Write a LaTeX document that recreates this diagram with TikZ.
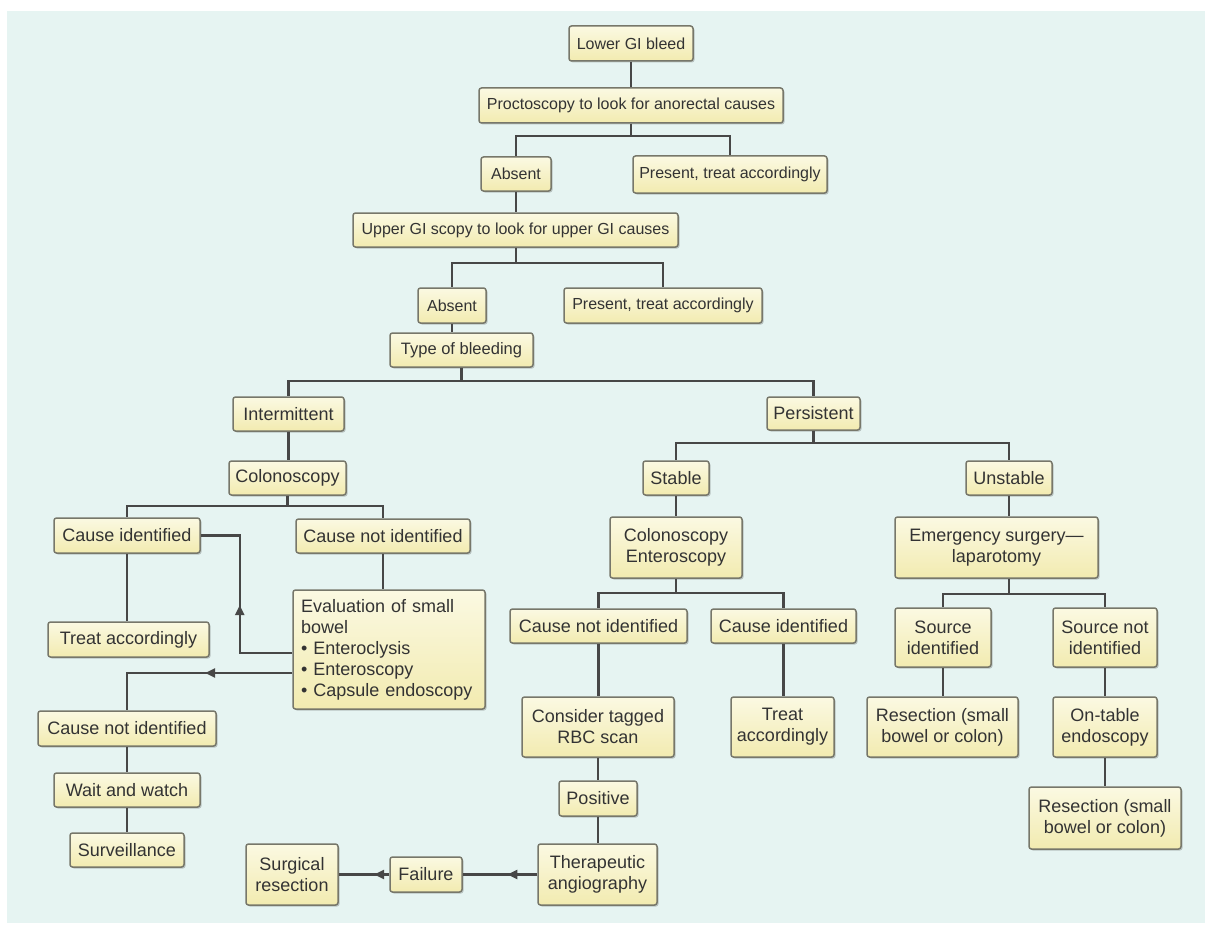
\documentclass[tikz,border=0pt]{standalone}
\usepackage{fontspec}
\setmainfont{Liberation Sans}
\usepackage{xcolor}
\usepackage{tikz}
\usetikzlibrary{arrows.meta,positioning,calc,shadows,decorations.markings}

\definecolor{bgcol}{HTML}{E6F4F2}
\definecolor{boxfill}{HTML}{F2EBB0}
\definecolor{boxlight}{HTML}{FBF9E2}
\definecolor{boxedge}{HTML}{77776A}
\definecolor{linecol}{HTML}{474747}

\newcommand{\topfont}{\fontsize{16}{19}\selectfont}
\newcommand{\lowfont}{\fontsize{18}{21}\selectfont}

\begin{document}
\begin{tikzpicture}[
    x=1pt, y=-1pt,
    box/.style={draw=boxedge, line width=1.5pt, rounded corners=2.5pt,
        top color=boxlight, bottom color=boxfill, align=center,
        inner sep=2pt, minimum height=35pt, text=black!80,
        drop shadow={shadow xshift=1.5pt, shadow yshift=-1.5pt, fill=black, opacity=0.2}},
    topbox/.style={box, font=\topfont},
    lowbox/.style={box, font=\lowfont},
    conn/.style={draw=linecol, line width=2.4pt},
    midarrow/.style={conn, postaction={decorate},
        decoration={markings, mark=at position #1 with {\arrow{Triangle[length=10pt,width=9pt]}}}}
]
    \useasboundingbox (0,0) rectangle (1205,931);
    % Page tint
    \fill[bgcol] (7,11) rectangle (1205,923);

    % Top of the tree
    \node[topbox, minimum width=124pt] (lgib) at (631,43.5) {Lower GI bleed};
    \node[topbox, minimum width=304pt] (procto) at (631,105.5) {Proctoscopy to look for anorectal causes};
    \node[topbox, minimum width=70pt, minimum height=34pt] (absA) at (516,174) {Absent};
    \node[topbox, minimum width=194pt, minimum height=37pt] (presA) at (730,174.5) {Present, treat accordingly};
    \node[topbox, minimum width=325pt, minimum height=34pt] (ugi) at (515.5,230) {Upper GI scopy to look for upper GI causes};
    \node[topbox, minimum width=68pt] (absB) at (452,305.5) {Absent};
    \node[topbox, minimum width=198pt] (presB) at (663,305.5) {Present, treat accordingly};
    \node[topbox, minimum width=143pt, minimum height=34pt, font=\fontsize{16.5}{19}\selectfont] (tob) at (461.5,350) {Type of bleeding};

    % Intermittent branch
    \node[lowbox, minimum width=111pt, minimum height=34pt] (interm) at (288.5,414) {Intermittent};
    \node[lowbox, minimum width=117pt, minimum height=34pt] (colon) at (287.5,478) {Colonoscopy};
    \node[lowbox, minimum width=146pt] (cid1) at (127,535.5) {Cause identified};
    \node[lowbox, minimum width=174pt, minimum height=34pt] (cnid1) at (383,536) {Cause not identified};
    \node[lowbox, align=left, text width=176pt, inner xsep=8pt, minimum height=119pt] (eval) at (389,649.5)
        {Evaluation of small\\bowel\\\textbullet\ Enteroclysis\\\textbullet\ Enteroscopy\\\textbullet\ Capsule endoscopy};
    \node[lowbox, minimum width=161pt] (treat1) at (128.5,639.5) {Treat accordingly};
    \node[lowbox, minimum width=178pt] (cnid2) at (127,728.5) {Cause not identified};
    \node[lowbox, minimum width=146pt, minimum height=34pt] (wait) at (127,790) {Wait and watch};
    \node[lowbox, minimum width=114pt, minimum height=34pt] (surv) at (127,850) {Surveillance};
    \node[lowbox, minimum width=92pt, minimum height=61pt] (surg) at (292,874.5) {Surgical\\resection};
    \node[lowbox, minimum width=72pt] (fail) at (426,874.5) {Failure};

    % Persistent branch
    \node[lowbox, minimum width=93pt, minimum height=33pt] (pers) at (813.5,413.5) {Persistent};
    \node[lowbox, minimum width=66pt, minimum height=34pt] (stable) at (676,478) {Stable};
    \node[lowbox, minimum width=132pt, minimum height=61pt] (colent) at (676,547.5) {Colonoscopy\\Enteroscopy};
    \node[lowbox, minimum width=177pt, minimum height=34pt] (cnid3) at (598.5,626) {Cause not identified};
    \node[lowbox, minimum width=145pt, minimum height=34pt] (cid3) at (783.5,626) {Cause identified};
    \node[lowbox, minimum width=152pt, minimum height=60pt] (rbc) at (598,727) {Consider tagged\\RBC scan};
    \node[lowbox, minimum width=103pt, minimum height=60pt] (treat3) at (782.5,727) {Treat\\accordingly};
    \node[lowbox, minimum width=78pt] (pos) at (598,798.5) {Positive};
    \node[lowbox, minimum width=119pt, minimum height=61pt] (ther) at (597.5,874.5) {Therapeutic\\angiography};
    \node[lowbox, minimum width=86pt, minimum height=34pt] (unst) at (1009,478) {Unstable};
    \node[lowbox, minimum width=203pt, minimum height=61pt] (emerg) at (996.5,547.5) {Emergency surgery---\\laparotomy};
    \node[lowbox, minimum width=96pt, minimum height=59pt] (srcid) at (943,637.5) {Source\\identified};
    \node[lowbox, minimum width=104pt, minimum height=59pt] (srcnid) at (1105,637.5) {Source not\\identified};
    \node[lowbox, minimum width=151pt, minimum height=60pt] (res1) at (942.5,727) {Resection (small\\bowel or colon)};
    \node[lowbox, minimum width=104pt, minimum height=60pt] (ontab) at (1105,727) {On-table\\endoscopy};
    \node[lowbox, minimum width=152pt, minimum height=62pt] (res2) at (1105,818) {Resection (small\\bowel or colon)};

    % Connectors, top
    \draw[conn] (lgib.south) -- (procto.north);
    \draw[conn] (procto.south) -- ++(0,12) -| (absA.north);
    \draw[conn] (procto.south) -- ++(0,12) -| (presA.north);
    \draw[conn] (absA.south) -- (absA.south |- ugi.north);
    \draw[conn] (ugi.south -| absA.south) -- ++(0,15) -| (absB.north);
    \draw[conn] (ugi.south -| absA.south) -- ++(0,15) -| (presB.north);
    \draw[conn] (absB.south) -- (absB.south |- tob.north);
    \draw[conn] (tob.south) -- ++(0,13) -| (interm.north);
    \draw[conn] (tob.south) -- ++(0,13) -| (pers.north);

    % Connectors, intermittent
    \draw[conn] (interm.south) -- (interm.south |- colon.north);
    \draw[conn] (colon.south) -- ++(0,10) -| (cid1.north);
    \draw[conn] (colon.south) -- ++(0,10) -| (cnid1.north);
    \draw[conn] (cid1.south) -- (cid1.south |- treat1.north);
    \draw[conn] (cnid1.south) -- (cnid1.south |- eval.north);
    \draw[midarrow=0.48] ([yshift=-3.5pt]eval.west) -| ($(cid1.east)+(39,0)$) -- (cid1.east);
    \draw[midarrow=0.43] ([yshift=-23.5pt]eval.west) -| (cnid2.north);
    \draw[conn] (cnid2.south) -- (wait.north);
    \draw[conn] (wait.south) -- (surv.north);

    % Connectors, persistent
    \draw[conn] (pers.south) -- ++(0,12) -| (stable.north);
    \draw[conn] (pers.south) -- ++(0,12) -| (unst.north);
    \draw[conn] (stable.south) -- (colent.north);
    \draw[conn] (colent.south) -- ++(0,14) -| (cnid3.north);
    \draw[conn] (colent.south) -- ++(0,14) -| (cid3.north);
    \draw[conn] (cnid3.south) -- (cnid3.south |- rbc.north);
    \draw[conn] (rbc.south) -- (pos.north);
    \draw[conn] (pos.south) -- (pos.south |- ther.north);
    \draw[conn] (cid3.south) -- (cid3.south |- treat3.north);
    \draw[midarrow=0.4] (ther.west) -- (fail.east);
    \draw[midarrow=0.3] (fail.west) -- (surg.east);
    \draw[conn] (unst.south) -- (unst.south |- emerg.north);
    \draw[conn] (unst.south |- emerg.south) -- ++(0,15) -| (srcid.north);
    \draw[conn] (unst.south |- emerg.south) -- ++(0,15) -| (srcnid.north);
    \draw[conn] (srcid.south) -- (srcid.south |- res1.north);
    \draw[conn] (srcnid.south) -- (ontab.north);
    \draw[conn] (ontab.south) -- (res2.north);
\end{tikzpicture}
\end{document}
